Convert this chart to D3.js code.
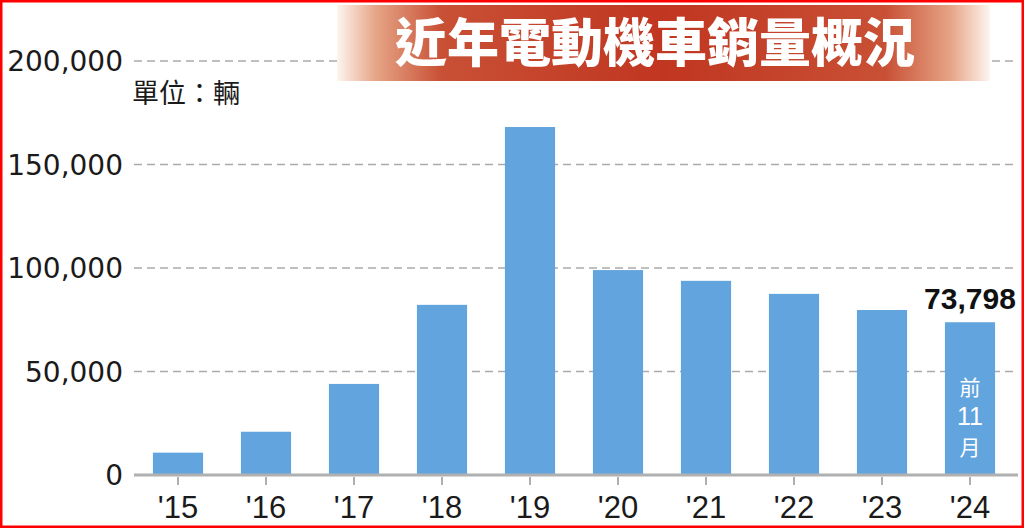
<!DOCTYPE html>
<html><head><meta charset="utf-8">
<script src="https://cdn.jsdelivr.net/npm/d3@7"></script>
<style>html,body{margin:0;padding:0;background:#fff;}svg{display:block;}</style>
</head><body>
<svg id="c" width="1024" height="528"></svg>
<script>
const categories = ["'15","'16","'17","'18","'19","'20","'21","'22","'23","'24"];
const sales = [10800, 20900, 44000, 82200, 168100, 99000, 93800, 87500, 79700, 73798];
const yTicks = [0, 50000, 100000, 150000, 200000];
const titleText = "近年電動機車銷量概況";
const unitText = "單位：輛";
const lastLabel = "73,798";
const lastNote = ["前","11","月"];

const svg = d3.select("#c");
const W = 1024, H = 528;
const y = d3.scaleLinear().domain([0, 200000]).range([475, 61]);
const x = d3.scaleBand().domain(categories).range([134, 1014]).paddingInner(0.43).paddingOuter(0.215);

const defs = svg.append("defs");
const g1 = defs.append("linearGradient").attr("id","tg").attr("x1","0").attr("x2","1").attr("y1","0").attr("y2","0");
[[0,"#fdf5ef"],[0.06,"#e6a486"],[0.16,"#c85035"],[0.5,"#c13620"],[0.84,"#c85035"],[0.94,"#e6a486"],[1,"#fdf5ef"]]
  .forEach(([o,c])=>g1.append("stop").attr("offset",o).attr("stop-color",c));

// gridlines
svg.append("g").selectAll("line").data(yTicks.filter(d=>d>0)).join("line")
  .attr("x1",134).attr("x2",1018).attr("y1",d=>y(d)).attr("y2",d=>y(d))
  .attr("stroke","#aaaaaa").attr("stroke-width",1.6).attr("stroke-dasharray","8,5");

// y labels
svg.append("g").selectAll("text").data(yTicks).join("text")
  .attr("x",123).attr("y",d=>y(d)).attr("dy","0.36em").attr("text-anchor","end")
  .attr("font-family","'DejaVu Sans', sans-serif").attr("font-size",28).attr("fill","#1a1a1a")
  .text(d=>d3.format(",")(d));

// title banner
svg.append("rect").attr("x",337).attr("y",5).attr("width",653).attr("height",76).attr("fill","url(#tg)");
svg.append("text").attr("x",655).attr("y",43).attr("dy","0.36em").attr("text-anchor","middle")
  .attr("font-family","'Noto Sans CJK TC','Noto Sans CJK SC',sans-serif").attr("font-weight",900)
  .attr("font-size",52).attr("fill","#fff").text(titleText);

// unit
svg.append("text").attr("x",132).attr("y",103)
  .attr("font-family","'Noto Sans CJK TC',sans-serif").attr("font-size",27).attr("fill","#1a1a1a").text(unitText);

// bars
svg.append("g").selectAll("rect").data(sales).join("rect")
  .attr("x",(d,i)=>x(categories[i])).attr("width",x.bandwidth())
  .attr("y",d=>y(d)).attr("height",d=>y(0)-y(d)).attr("fill","#62a4de");

// axis line + ticks
svg.append("line").attr("x1",134).attr("x2",1018).attr("y1",y(0)).attr("y2",y(0))
  .attr("stroke","#b0b0b0").attr("stroke-width",3);
svg.append("g").selectAll("line").data(categories).join("line")
  .attr("x1",d=>x(d)+x.bandwidth()/2).attr("x2",d=>x(d)+x.bandwidth()/2)
  .attr("y1",y(0)+2).attr("y2",y(0)+10).attr("stroke","#b0b0b0").attr("stroke-width",2);
svg.append("g").selectAll("text").data(categories).join("text")
  .attr("x",d=>x(d)+x.bandwidth()/2).attr("y",518).attr("text-anchor","middle")
  .attr("font-family","'Liberation Sans Narrow','Arial Narrow','Liberation Sans',sans-serif")
  .attr("font-size",31).attr("fill","#1a1a1a").text(d=>d);

// last bar annotation
const lc = categories[categories.length-1];
const lx = x(lc)+x.bandwidth()/2;
svg.append("text").attr("x",lx).attr("y",y(sales[sales.length-1])-13).attr("text-anchor","middle")
  .attr("font-family","'Liberation Sans',Arial,sans-serif").attr("font-weight","bold")
  .attr("font-size",30).attr("fill","#111").text(lastLabel);
svg.append("g").selectAll("text").data(lastNote).join("text")
  .attr("x",lx).attr("y",(d,i)=>395+i*30).attr("text-anchor","middle")
  .attr("font-family",(d,i)=>i===1?"'Liberation Sans',sans-serif":"'Noto Sans CJK TC',sans-serif")
  .attr("font-size",(d,i)=>i===1?25:21).attr("fill","#fff").text(d=>d);

// border
svg.append("rect").attr("x",1).attr("y",1).attr("width",W-2).attr("height",H-2)
  .attr("fill","none").attr("stroke","#ff0000").attr("stroke-width",3);
</script>
</body></html>
